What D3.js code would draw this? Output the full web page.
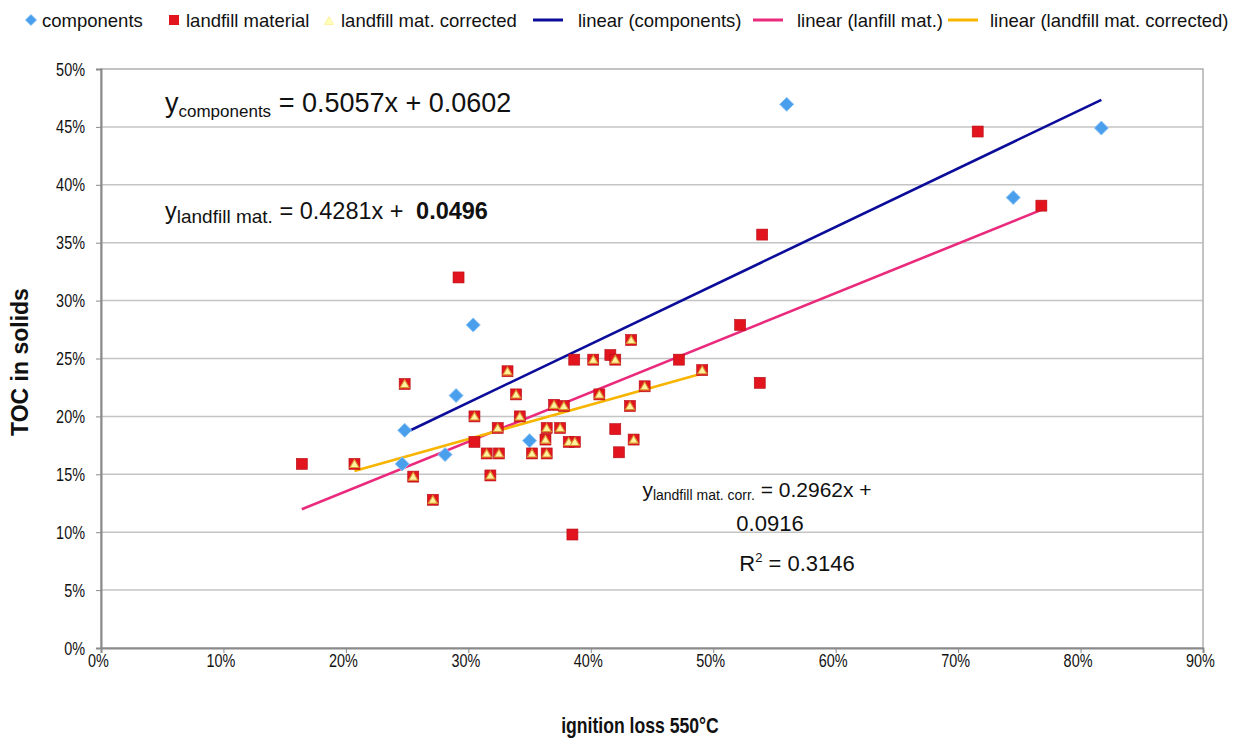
<!DOCTYPE html>
<html><head><meta charset="utf-8">
<script src="https://cdn.jsdelivr.net/npm/d3@7"></script>
<style>
body{margin:0;background:#fff}
svg{display:block}
text{font-family:"Liberation Sans",Arial,Helvetica,sans-serif;fill:#111}
</style>
</head><body>
<svg id="chart" width="1245" height="742"></svg>
<script>
// ---------- data (fractions) ----------
const xTicks = [0,0.1,0.2,0.3,0.4,0.5,0.6,0.7,0.8,0.9];
const yTicks = [0,0.05,0.1,0.15,0.2,0.25,0.3,0.35,0.4,0.45,0.5];

const components = [
  [0.248,0.188],[0.246,0.159],[0.290,0.218],[0.281,0.167],[0.304,0.279],
  [0.350,0.179],[0.560,0.4695],[0.745,0.389],[0.817,0.449]
];

// landfill material points that carry no corrected value
const landfillOnly = [
  [0.164,0.159],[0.292,0.320],[0.305,0.178],[0.385,0.098],[0.3865,0.249],
  [0.416,0.253],[0.420,0.189],[0.423,0.169],[0.472,0.249],[0.522,0.279],
  [0.540,0.357],[0.538,0.229],[0.716,0.446],[0.768,0.382]
];

// landfill material corrected (also plotted as landfill material)
const landfillCorrected = [
  [0.248,0.228],[0.207,0.159],[0.255,0.148],[0.271,0.128],[0.433,0.266],
  [0.332,0.239],[0.402,0.249],[0.420,0.249],[0.339,0.219],[0.444,0.226],
  [0.407,0.219],[0.491,0.240],[0.370,0.210],[0.378,0.209],[0.432,0.209],
  [0.305,0.200],[0.342,0.200],[0.324,0.190],[0.364,0.190],[0.375,0.190],
  [0.363,0.180],[0.382,0.178],[0.387,0.178],[0.435,0.180],[0.315,0.168],
  [0.325,0.168],[0.352,0.168],[0.364,0.168],[0.318,0.149]
];

const landfillMaterial = landfillOnly.concat(landfillCorrected);

const trendNames = ["components","landfill","corrected"];
const trendSlopes = [0.5057,0.4281,0.2962];
const trendIntercepts = [0.0602,0.0496,0.0916];

const legendLabels = ["components","landfill material","landfill mat. corrected",
  "linear (components)","linear (lanfill mat.)","linear (landfill mat. corrected)"];

// ---------- setup ----------
const svg = d3.select("#chart");
const L=101,R=1203,T=69,B=648;
const x = d3.scaleLinear().domain([0,0.9]).range([L,R]);
const y = d3.scaleLinear().domain([0,0.5]).range([B,T]);
const pct = d => Math.round(d*100)+"%";

const C = {blue:"#4a9fec", red:"#e2151f", triFill:"#fff3a0", triStroke:"#d9902e",
  lBlue:"#0c0c9a", lPink:"#ea2a7c", lOrange:"#f7b500"};

// grid
svg.append("g").selectAll("line").data(yTicks.slice(1,-1)).join("line")
  .attr("x1",L).attr("x2",R).attr("y1",d=>y(d)).attr("y2",d=>y(d))
  .attr("stroke","#c4c4c4").attr("stroke-width",1.5);

// plot frame
svg.append("rect").attr("x",L).attr("y",T).attr("width",R-L).attr("height",B-T)
  .attr("fill","none").attr("stroke","#b0b0b0").attr("stroke-width",1.5);

// axes
const yAxis = svg.append("g").attr("transform",`translate(${L},0)`)
  .call(d3.axisLeft(y).tickValues(yTicks).tickFormat(pct).tickSize(5).tickPadding(3));
const xAxis = svg.append("g").attr("transform",`translate(0,${B})`)
  .call(d3.axisBottom(x).tickValues(xTicks).tickFormat(pct).tickSize(5).tickPadding(4));
[xAxis,yAxis].forEach(a=>{
  a.select(".domain").attr("stroke","#8a8a8a").attr("stroke-width",2);
  a.selectAll(".tick line").attr("stroke","#8a8a8a");
  a.selectAll("text").attr("font-size",19).attr("fill","#222")
   .style("font-family","'Liberation Sans',Arial,sans-serif");
});
// condense tick labels horizontally
yAxis.selectAll(".tick text").each(function(){
  d3.select(this).attr("x",null).attr("transform",`translate(-16,0) scale(0.76,1)`);
});
xAxis.selectAll(".tick text").each(function(){
  d3.select(this).attr("y",null).attr("transform",`translate(-3,6) scale(0.76,1)`).attr("dy","0.71em");
});

// trend lines
const series = [components, landfillMaterial, landfillCorrected];
const lineColors = [C.lBlue, C.lPink, C.lOrange];
series.forEach((s,i)=>{
  const [x0,x1] = d3.extent(s,d=>d[0]);
  const pts = [x0,x1].map(v=>[v, trendSlopes[i]*v+trendIntercepts[i]]);
  svg.append("path").attr("d", d3.line().x(d=>x(d[0])).y(d=>y(d[1]))(pts))
    .attr("stroke",lineColors[i]).attr("stroke-width",2.6).attr("fill","none");
});

// markers
const diamond = "M0,-7L7,0L0,7L-7,0Z";
const tri = "M0,-4.3L4.6,3.6L-4.6,3.6Z";
svg.append("g").selectAll("path").data(components).join("path")
  .attr("d",diamond).attr("transform",d=>`translate(${x(d[0])},${y(d[1])})`)
  .attr("fill",C.blue).attr("stroke","#8cc4f4").attr("stroke-width",1);
svg.append("g").selectAll("rect").data(landfillMaterial).join("rect")
  .attr("x",d=>x(d[0])-5.5).attr("y",d=>y(d[1])-5.5).attr("width",11).attr("height",11)
  .attr("fill",C.red).attr("stroke","#b50d14").attr("stroke-width",0.6);
svg.append("g").selectAll("path").data(landfillCorrected).join("path")
  .attr("d",tri).attr("transform",d=>`translate(${x(d[0])},${y(d[1])})`)
  .attr("fill",C.triFill).attr("stroke",C.triStroke).attr("stroke-width",1.1);

// legend
const lg = svg.append("g").attr("font-size",18.5);
const lgText = [42,186,341,578,797,990];
lgText.forEach((px,i)=>lg.append("text").attr("x",px).attr("y",27).text(legendLabels[i]));
lg.append("path").attr("d",diamond).attr("transform","translate(31,20) scale(0.8)")
  .attr("fill",C.blue).attr("stroke","#8cc4f4");
lg.append("rect").attr("x",169).attr("y",15).attr("width",10).attr("height",10).attr("fill",C.red);
lg.append("path").attr("d",tri).attr("transform","translate(329,21)")
  .attr("fill","#ffffb8").attr("stroke","#fff0a0");
[[533,563,C.lBlue],[753,783,C.lPink],[948,978,C.lOrange]].forEach(d=>
  lg.append("line").attr("x1",d[0]).attr("x2",d[1]).attr("y1",20).attr("y2",20)
    .attr("stroke",d[2]).attr("stroke-width",3));

// equations
const eq1 = svg.append("text").attr("x",165).attr("y",112).attr("font-size",27);
eq1.append("tspan").text("y");
eq1.append("tspan").attr("font-size",17).attr("dy",5).text("components");
eq1.append("tspan").attr("dy",-5).text(" = 0.5057x + 0.0602");

const eq2 = svg.append("text").attr("x",165).attr("y",219).attr("font-size",23.5);
eq2.append("tspan").text("y");
eq2.append("tspan").attr("font-size",19).attr("dy",4).text("landfill mat.");
eq2.append("tspan").attr("dy",-4).text(" = 0.4281x + ");
eq2.append("tspan").attr("font-weight","bold").attr("dx",6).text("0.0496");

const eq3 = svg.append("text").attr("x",757).attr("y",497).attr("font-size",21).attr("text-anchor","middle");
eq3.append("tspan").text("y");
eq3.append("tspan").attr("font-size",14).attr("dy",3).text("landfill mat. corr.");
eq3.append("tspan").attr("dy",-3).text(" = 0.2962x +");
svg.append("text").attr("x",770).attr("y",531).attr("font-size",22).attr("text-anchor","middle").text("0.0916");
const r2 = svg.append("text").attr("x",797).attr("y",571).attr("font-size",22).attr("text-anchor","middle");
r2.append("tspan").text("R");
r2.append("tspan").attr("font-size",13).attr("dy",-9).text("2");
r2.append("tspan").attr("dy",9).text(" = 0.3146");

// axis titles
svg.append("text").attr("transform","translate(28,362) rotate(-90)").attr("text-anchor","middle")
  .attr("font-size",23).attr("font-weight","bold").text("TOC in solids");
const xt = svg.append("text").attr("transform","translate(640,733) scale(0.8,1)").attr("text-anchor","middle")
  .attr("font-size",22);
xt.append("tspan").attr("font-weight","600").text("ignition loss ");
xt.append("tspan").attr("font-weight","bold").text("550°C");
</script>
</body></html>
